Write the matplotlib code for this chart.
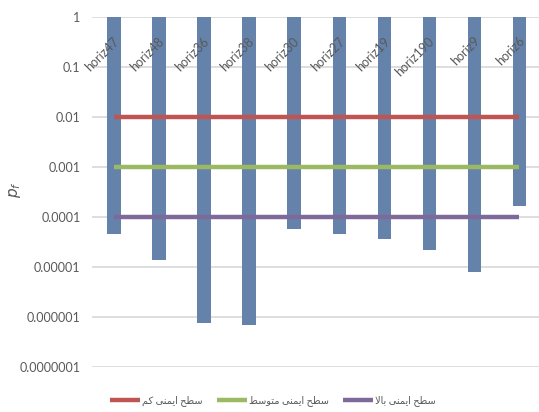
import matplotlib.pyplot as plt
from matplotlib.lines import Line2D
import numpy as np

# failure probability per section (bars hang down from 1)
categories = ['horiz47', 'horiz48', 'horiz36', 'horiz38', 'horiz30',
              'horiz27', 'horiz19', 'horiz190', 'horiz9', 'horiz6']
pf = [4.6e-5, 1.4e-5, 7.6e-7, 6.9e-7, 5.8e-5, 4.6e-5, 3.6e-5, 2.2e-5, 7.9e-6, 1.66e-4]

# safety levels drawn as horizontal lines
levels = ['سطح ایمنی کم', 'سطح ایمنی متوسط', 'سطح ایمنی بالا']
level_values = [0.01, 0.001, 0.0001]
level_colors = ['#BE5552', '#9BB862', '#7E6A9A']

tick_values = [1, 0.1, 0.01, 0.001, 0.0001, 0.00001, 0.000001, 0.0000001]
tick_labels = ['1', '0.1', '0.01', '0.001', '0.0001', '0.00001', '0.000001', '0.0000001']

# matplotlib has no arabic shaping, so map letters to presentation forms
# (isolated, final, initial, medial); None = does not join to the next letter
FORMS = {
    'ا': ('\uFE8D', '\uFE8E', None, None),
    'ب': ('\uFE8F', '\uFE90', '\uFE91', '\uFE92'),
    'ت': ('\uFE95', '\uFE96', '\uFE97', '\uFE98'),
    'ح': ('\uFEA1', '\uFEA2', '\uFEA3', '\uFEA4'),
    'س': ('\uFEB1', '\uFEB2', '\uFEB3', '\uFEB4'),
    'ط': ('\uFEC1', '\uFEC2', '\uFEC3', '\uFEC4'),
    'ل': ('\uFEDD', '\uFEDE', '\uFEDF', '\uFEE0'),
    'م': ('\uFEE1', '\uFEE2', '\uFEE3', '\uFEE4'),
    'ن': ('\uFEE5', '\uFEE6', '\uFEE7', '\uFEE8'),
    'و': ('\uFEED', '\uFEEE', None, None),
    'ی': ('\uFBFC', '\uFBFD', '\uFBFE', '\uFBFF'),
    'ک': ('\uFB8E', '\uFB8F', '\uFB90', '\uFB91'),
    '\uFEFB': ('\uFEFB', '\uFEFC', None, None),  # lam-alef
}


def shape(text):
    words = []
    for word in text.split(' '):
        word = word.replace('لا', '\uFEFB')
        out = ''
        for i, ch in enumerate(word):
            f = FORMS[ch]
            prev_join = i > 0 and FORMS[word[i - 1]][2] is not None
            next_join = i < len(word) - 1 and f[2] is not None
            if prev_join and next_join:
                out += f[3]
            elif prev_join:
                out += f[1]
            elif next_join:
                out += f[2]
            else:
                out += f[0]
        words.append(out)
    return ' '.join(words)[::-1]


plt.rcParams['font.family'] = ['Lato', 'DejaVu Sans']
gray = '#595959'

fig = plt.figure(figsize=(5.39, 4.12), dpi=100)
ax = fig.add_axes([91.5 / 539, 45 / 412, 450.5 / 539, 350 / 412])

x = np.arange(len(categories))
ax.bar(x, np.subtract(1, pf), bottom=pf, width=0.3, color='#6583AA', zorder=2)

for val, col in zip(level_values, level_colors):
    ax.plot([x[0], x[-1]], [val, val], color=col, lw=3.2, solid_capstyle='butt', zorder=3)

ax.set_yscale('log')
ax.set_ylim(1e-7, 1)
ax.set_xlim(-0.5, len(categories) - 0.5)
ax.set_yticks(tick_values)
ax.set_yticklabels(tick_labels)
ax.minorticks_off()
ax.set_xticks([])
ax.tick_params(axis='y', length=0, pad=8, labelsize=9, labelcolor=gray)
ax.grid(axis='y', color='#D4D4D4', lw=1.1, zorder=0)
for s in ax.spines.values():
    s.set_visible(False)

for i, name in enumerate(categories):
    ax.text(i + 0.07, 0.36, name, rotation=45, ha='right', va='center',
            rotation_mode='anchor', fontsize=9, color=gray, zorder=4)

fig.text(15 / 539, 1 - 190 / 412, r'$p_f$', rotation=90, fontsize=11,
         color=gray, ha='center', va='center')

for name, col, x0 in zip(levels, level_colors, [110, 217, 343]):
    h = Line2D([], [], color=col, lw=3.2, solid_capstyle='butt')
    fig.legend([h], [shape(name)], loc='center left', bbox_to_anchor=(x0 / 539, 1 - 401 / 412),
               frameon=False, fontsize=7, handlelength=3.1, handletextpad=0.2,
               borderpad=0, borderaxespad=0, labelcolor=gray)

fig.savefig('out.png', dpi=100)
